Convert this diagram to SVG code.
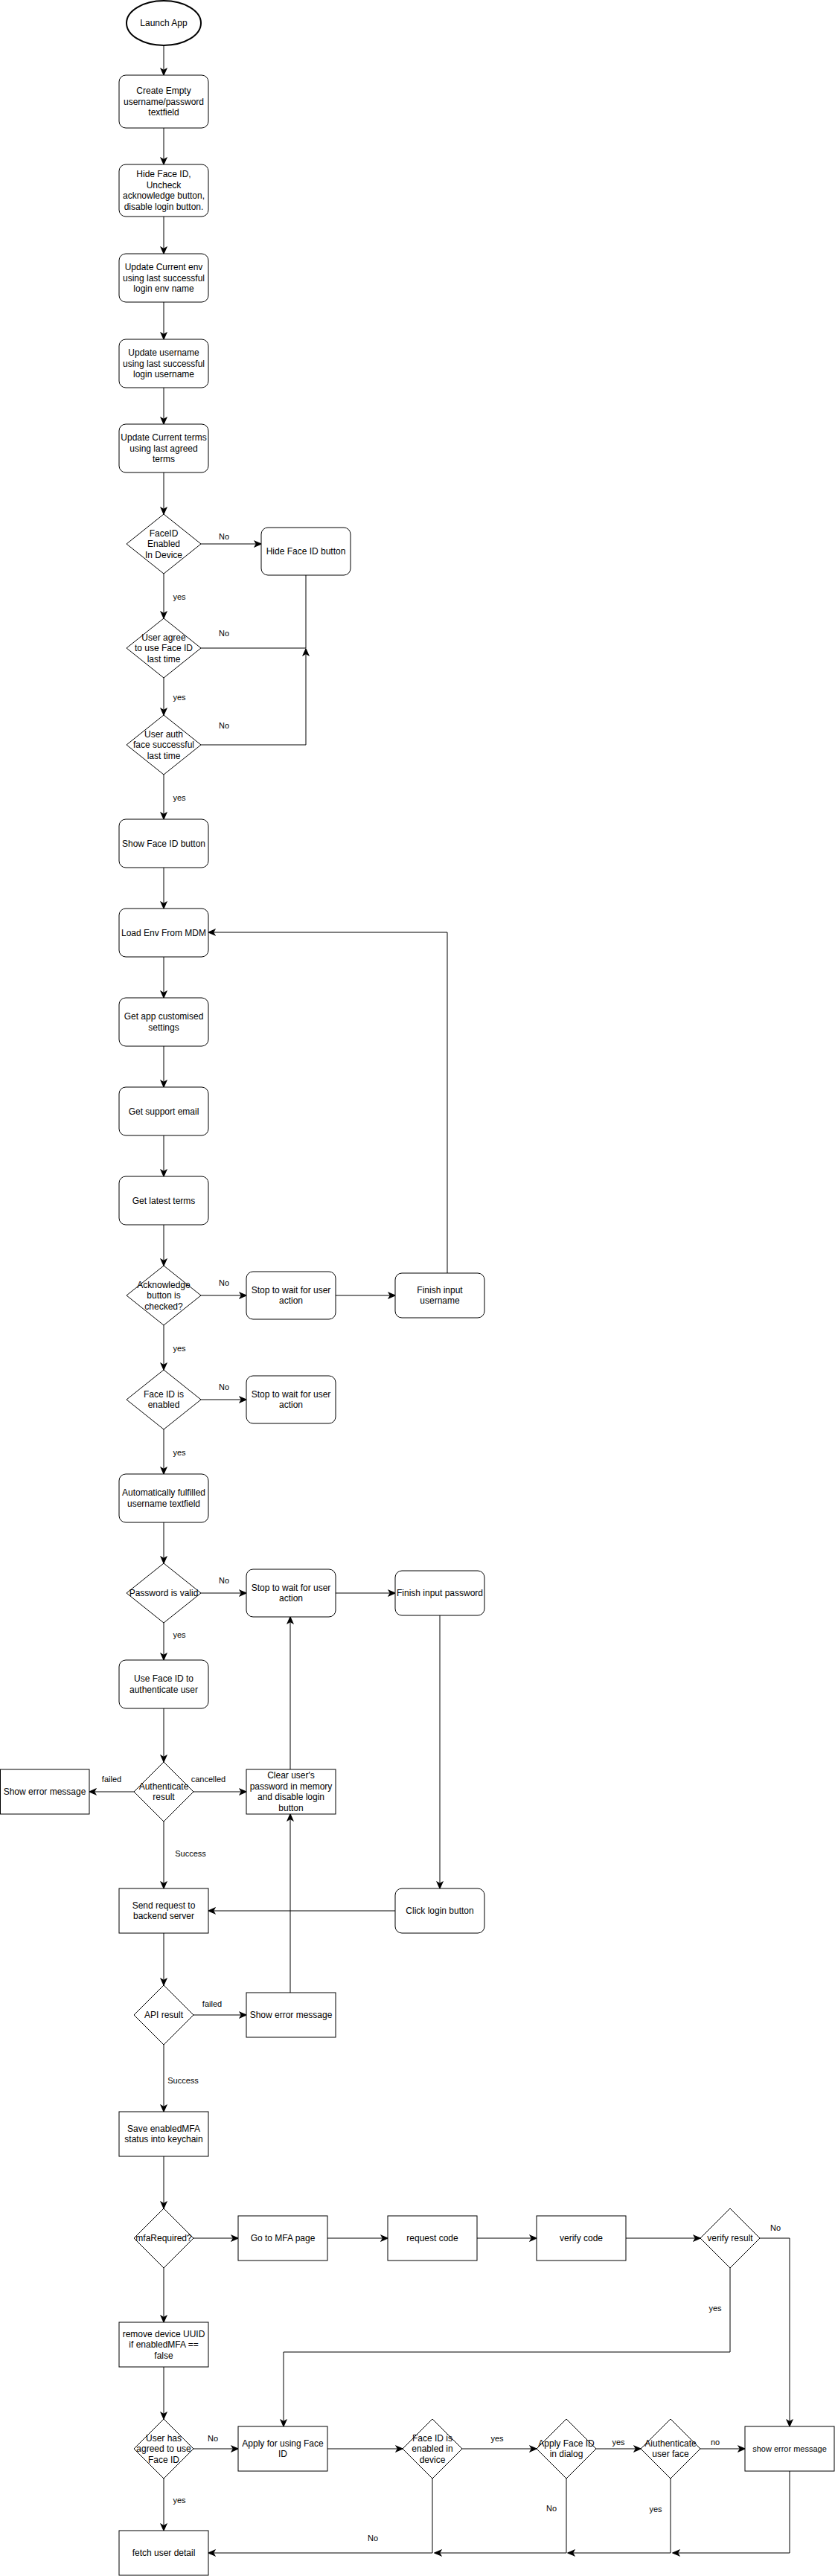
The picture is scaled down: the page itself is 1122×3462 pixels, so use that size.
<svg xmlns="http://www.w3.org/2000/svg" width="1122" height="3462" viewBox="0 0 1122 3462">
<style>
.n{fill:#fff;stroke:#000;stroke-width:1}
.d{fill:#fff;stroke:#000;stroke-width:1}
.c{fill:#fff;stroke:#000;stroke-width:2}
.t{font-family:"Liberation Sans",Arial,sans-serif;font-size:12px;fill:#000;text-anchor:middle}
.s{font-size:11px}
.l{font-family:"Liberation Sans",Arial,sans-serif;font-size:11px;fill:#000;text-anchor:middle}
.e{fill:none;stroke:#000;stroke-width:1}
.a{marker-end:url(#arr)}
</style>
<defs>
<marker id="arr" markerUnits="userSpaceOnUse" markerWidth="11" markerHeight="11" viewBox="0 0 10 10" refX="9" refY="5" orient="auto">
<path d="M1,1.5 L9,5 L1,8.5 L3,5 z" fill="#000" stroke="#000" stroke-width="1"/>
</marker>
</defs>
<rect width="1122" height="3462" fill="#fff"/>

<g id="connectors">
<path class="e a" d="M220,61 V101"/>
<path class="e a" d="M220,172 V221"/>
<path class="e a" d="M220,291 V341"/>
<path class="e a" d="M220,406 V456"/>
<path class="e a" d="M220,521 V570"/>
<path class="e a" d="M220,635 V691"/>
<path class="e a" d="M270,731 H351"/>
<path class="e a" d="M220,771 V831"/>
<path class="e" d="M270,871 H411 V773"/>
<path class="e a" d="M220,911 V961"/>
<path class="e a" d="M270,1001 H411 V872"/>
<path class="e a" d="M220,1041 V1101"/>
<path class="e a" d="M220,1166 V1221"/>
<path class="e a" d="M220,1286 V1341"/>
<path class="e a" d="M220,1406 V1461"/>
<path class="e a" d="M220,1526 V1581"/>
<path class="e a" d="M220,1646 V1701"/>
<path class="e a" d="M270,1741 H331"/>
<path class="e a" d="M451,1741 H531"/>
<path class="e a" d="M601,1711 V1253 H280"/>
<path class="e a" d="M220,1781 V1841"/>
<path class="e a" d="M270,1881 H331"/>
<path class="e a" d="M220,1921 V1981"/>
<path class="e a" d="M220,2046 V2101"/>
<path class="e a" d="M270,2141 H331"/>
<path class="e a" d="M451,2141 H531"/>
<path class="e a" d="M220,2181 V2231"/>
<path class="e a" d="M220,2296 V2368"/>
<path class="e a" d="M180,2408 H120"/>
<path class="e a" d="M260,2408 H331"/>
<path class="e a" d="M390,2378 V2173"/>
<path class="e a" d="M220,2448 V2538"/>
<path class="e a" d="M591,2171 V2538"/>
<path class="e a" d="M531,2568 H280"/>
<path class="e a" d="M220,2598 V2668"/>
<path class="e a" d="M260,2708 H331"/>
<path class="e a" d="M390,2678 V2438"/>
<path class="e a" d="M220,2748 V2838"/>
<path class="e a" d="M220,2898 V2968"/>
<path class="e a" d="M260,3008 H320"/>
<path class="e a" d="M440,3008 H521"/>
<path class="e a" d="M641,3008 H721"/>
<path class="e a" d="M841,3008 H941"/>
<path class="e a" d="M1021,3008 H1061 V3261"/>
<path class="e a" d="M981,3048 V3161 H381 V3261"/>
<path class="e a" d="M220,3048 V3121"/>
<path class="e a" d="M220,3181 V3251"/>
<path class="e a" d="M260,3291 H320"/>
<path class="e a" d="M440,3291 H541"/>
<path class="e a" d="M621,3291 H721"/>
<path class="e a" d="M801,3291 H861"/>
<path class="e a" d="M941,3291 H1001"/>
<path class="e a" d="M1061,3321 V3431 H904"/>
<path class="e a" d="M901,3331 V3431 H763"/>
<path class="e a" d="M761,3331 V3431 H584"/>
<path class="e a" d="M581,3331 V3431 H280"/>
<path class="e a" d="M220,3331 V3401"/>
</g>

<g id="edge-labels">
<text class="l" x="301" y="725">No</text>
<text class="l" x="241" y="806">yes</text>
<text class="l" x="301" y="855">No</text>
<text class="l" x="241" y="941">yes</text>
<text class="l" x="301" y="979">No</text>
<text class="l" x="241" y="1076">yes</text>
<text class="l" x="301" y="1728">No</text>
<text class="l" x="241" y="1816">yes</text>
<text class="l" x="301" y="1868">No</text>
<text class="l" x="241" y="1956">yes</text>
<text class="l" x="301" y="2128">No</text>
<text class="l" x="241" y="2201">yes</text>
<text class="l" x="150" y="2395">failed</text>
<text class="l" x="280" y="2395">cancelled</text>
<text class="l" x="256" y="2495">Success</text>
<text class="l" x="285" y="2697">failed</text>
<text class="l" x="246" y="2800">Success</text>
<text class="l" x="1042" y="2998">No</text>
<text class="l" x="961" y="3106">yes</text>
<text class="l" x="286" y="3281">No</text>
<text class="l" x="668" y="3281">yes</text>
<text class="l" x="831" y="3286">yes</text>
<text class="l" x="961" y="3286">no</text>
<text class="l" x="741" y="3375">No</text>
<text class="l" x="881" y="3376">yes</text>
<text class="l" x="501" y="3415">No</text>
<text class="l" x="241" y="3364">yes</text>
</g>

<g id="launch"><ellipse class="c" cx="220" cy="31" rx="50" ry="30"/><text class="t" x="220" y="35">Launch App</text></g>
<g id="create-empty"><rect class="n" x="160" y="101" width="120" height="71" rx="9"/><text class="t"><tspan x="220" y="126">Create Empty</tspan><tspan x="220" y="140.5">username/password</tspan><tspan x="220" y="155">textfield</tspan></text></g>
<g id="hide-init"><rect class="n" x="160" y="221" width="120" height="70" rx="9"/><text class="t"><tspan x="220" y="238.3">Hide Face ID,</tspan><tspan x="220" y="252.8">Uncheck</tspan><tspan x="220" y="267.3">acknowledge button,</tspan><tspan x="220" y="281.8">disable login button.</tspan></text></g>
<g id="update-env"><rect class="n" x="160" y="341" width="120" height="65" rx="9"/><text class="t"><tspan x="220" y="363">Update Current env</tspan><tspan x="220" y="377.5">using last successful</tspan><tspan x="220" y="392">login env name</tspan></text></g>
<g id="update-username"><rect class="n" x="160" y="456" width="120" height="65" rx="9"/><text class="t"><tspan x="220" y="478">Update username</tspan><tspan x="220" y="492.5">using last successful</tspan><tspan x="220" y="507">login username</tspan></text></g>
<g id="update-terms"><rect class="n" x="160" y="570" width="120" height="65" rx="9"/><text class="t"><tspan x="220" y="592">Update Current terms</tspan><tspan x="220" y="606.5">using last agreed</tspan><tspan x="220" y="621">terms</tspan></text></g>
<g id="faceid-device"><polygon class="d" points="220,691 270,731 220,771 170,731"/><text class="t"><tspan x="220" y="720.5">FaceID</tspan><tspan x="220" y="735">Enabled</tspan><tspan x="220" y="749.5">In Device</tspan></text></g>
<g id="hide-faceid"><rect class="n" x="351" y="709" width="120" height="64" rx="9"/><text class="t" x="411" y="745">Hide Face ID button</text></g>
<g id="user-agree"><polygon class="d" points="220,831 270,871 220,911 170,871"/><text class="t"><tspan x="220" y="860.5">User agree</tspan><tspan x="220" y="875">to use Face ID</tspan><tspan x="220" y="889.5">last time</tspan></text></g>
<g id="user-auth"><polygon class="d" points="220,961 270,1001 220,1041 170,1001"/><text class="t"><tspan x="220" y="990.5">User auth</tspan><tspan x="220" y="1005">face successful</tspan><tspan x="220" y="1019.5">last time</tspan></text></g>
<g id="show-faceid"><rect class="n" x="160" y="1101" width="120" height="65" rx="9"/><text class="t" x="220" y="1137.5">Show Face ID button</text></g>
<g id="load-env"><rect class="n" x="160" y="1221" width="120" height="65" rx="9"/><text class="t" x="220" y="1257.5">Load Env From MDM</text></g>
<g id="get-settings"><rect class="n" x="160" y="1341" width="120" height="65" rx="9"/><text class="t"><tspan x="220" y="1370.3">Get app customised</tspan><tspan x="220" y="1384.8">settings</tspan></text></g>
<g id="get-email"><rect class="n" x="160" y="1461" width="120" height="65" rx="9"/><text class="t" x="220" y="1497.5">Get support email</text></g>
<g id="get-terms"><rect class="n" x="160" y="1581" width="120" height="65" rx="9"/><text class="t" x="220" y="1617.5">Get latest terms</text></g>
<g id="ack-checked"><polygon class="d" points="220,1701 270,1741 220,1781 170,1741"/><text class="t"><tspan x="220" y="1730.5">Acknowledge</tspan><tspan x="220" y="1745">button is</tspan><tspan x="220" y="1759.5">checked?</tspan></text></g>
<g id="stop-1"><rect class="n" x="331" y="1709" width="120" height="64" rx="9"/><text class="t"><tspan x="391" y="1737.8">Stop to wait for user</tspan><tspan x="391" y="1752.3">action</tspan></text></g>
<g id="finish-username"><rect class="n" x="531" y="1711" width="120" height="60" rx="9"/><text class="t"><tspan x="591" y="1737.8">Finish input</tspan><tspan x="591" y="1752.3">username</tspan></text></g>
<g id="faceid-enabled"><polygon class="d" points="220,1841 270,1881 220,1921 170,1881"/><text class="t"><tspan x="220" y="1877.8">Face ID is</tspan><tspan x="220" y="1892.3">enabled</tspan></text></g>
<g id="stop-2"><rect class="n" x="331" y="1849" width="120" height="64" rx="9"/><text class="t"><tspan x="391" y="1877.8">Stop to wait for user</tspan><tspan x="391" y="1892.3">action</tspan></text></g>
<g id="auto-fill"><rect class="n" x="160" y="1981" width="120" height="65" rx="9"/><text class="t"><tspan x="220" y="2010.3">Automatically fulfilled</tspan><tspan x="220" y="2024.8">username textfield</tspan></text></g>
<g id="password-valid"><polygon class="d" points="220,2101 270,2141 220,2181 170,2141"/><text class="t" x="220" y="2145">Password is valid</text></g>
<g id="stop-3"><rect class="n" x="331" y="2109" width="120" height="64" rx="9"/><text class="t"><tspan x="391" y="2137.8">Stop to wait for user</tspan><tspan x="391" y="2152.3">action</tspan></text></g>
<g id="finish-password"><rect class="n" x="531" y="2111" width="120" height="60" rx="9"/><text class="t" x="591" y="2145">Finish input password</text></g>
<g id="use-faceid"><rect class="n" x="160" y="2231" width="120" height="65" rx="9"/><text class="t"><tspan x="220" y="2260.3">Use Face ID to</tspan><tspan x="220" y="2274.8">authenticate user</tspan></text></g>
<g id="auth-result"><polygon class="d" points="220,2368 260,2408 220,2448 180,2408"/><text class="t"><tspan x="220" y="2404.8">Authenticate</tspan><tspan x="220" y="2419.3">result</tspan></text></g>
<g id="show-error-1"><rect class="n" x="0.5" y="2378" width="119.5" height="60"/><text class="t" x="60" y="2412">Show error message</text></g>
<g id="clear-password"><rect class="n" x="331" y="2378" width="120" height="60"/><text class="t"><tspan x="391" y="2390.3">Clear user's</tspan><tspan x="391" y="2404.8">password in memory</tspan><tspan x="391" y="2419.3">and disable login</tspan><tspan x="391" y="2433.8">button</tspan></text></g>
<g id="send-request"><rect class="n" x="160" y="2538" width="120" height="60"/><text class="t"><tspan x="220" y="2564.8">Send request to</tspan><tspan x="220" y="2579.3">backend server</tspan></text></g>
<g id="click-login"><rect class="n" x="531" y="2538" width="120" height="60" rx="9"/><text class="t" x="591" y="2572">Click login button</text></g>
<g id="api-result"><polygon class="d" points="220,2668 260,2708 220,2748 180,2708"/><text class="t" x="220" y="2712">API result</text></g>
<g id="show-error-2"><rect class="n" x="331" y="2678" width="120" height="60"/><text class="t" x="391" y="2712">Show error message</text></g>
<g id="save-mfa"><rect class="n" x="160" y="2838" width="120" height="60"/><text class="t"><tspan x="220" y="2864.8">Save enabledMFA</tspan><tspan x="220" y="2879.3">status into keychain</tspan></text></g>
<g id="mfa-required"><polygon class="d" points="220,2968 260,3008 220,3048 180,3008"/><text class="t" x="220" y="3012">mfaRequired?</text></g>
<g id="go-mfa"><rect class="n" x="320" y="2978" width="120" height="60"/><text class="t" x="380" y="3012">Go to MFA page</text></g>
<g id="request-code"><rect class="n" x="521" y="2978" width="120" height="60"/><text class="t" x="581" y="3012">request code</text></g>
<g id="verify-code"><rect class="n" x="721" y="2978" width="120" height="60"/><text class="t" x="781" y="3012">verify code</text></g>
<g id="verify-result"><polygon class="d" points="981,2968 1021,3008 981,3048 941,3008"/><text class="t" x="981" y="3012">verify result</text></g>
<g id="remove-uuid"><rect class="n" x="160" y="3121" width="120" height="60"/><text class="t"><tspan x="220" y="3140.5">remove device UUID</tspan><tspan x="220" y="3155">if enabledMFA ==</tspan><tspan x="220" y="3169.5">false</tspan></text></g>
<g id="user-agreed"><polygon class="d" points="220,3251 260,3291 220,3331 180,3291"/><text class="t"><tspan x="220" y="3280.5">User has</tspan><tspan x="220" y="3295">agreed to use</tspan><tspan x="220" y="3309.5">Face ID</tspan></text></g>
<g id="apply-faceid"><rect class="n" x="320" y="3261" width="120" height="60"/><text class="t"><tspan x="380" y="3287.8">Apply for using Face</tspan><tspan x="380" y="3302.3">ID</tspan></text></g>
<g id="faceid-device-2"><polygon class="d" points="581,3251 621,3291 581,3331 541,3291"/><text class="t"><tspan x="581" y="3280.5">Face ID is</tspan><tspan x="581" y="3295">enabled in</tspan><tspan x="581" y="3309.5">device</tspan></text></g>
<g id="apply-dialog"><polygon class="d" points="761,3251 801,3291 761,3331 721,3291"/><text class="t"><tspan x="761" y="3287.8">Apply Face ID</tspan><tspan x="761" y="3302.3">in dialog</tspan></text></g>
<g id="auth-face"><polygon class="d" points="901,3251 941,3291 901,3331 861,3291"/><text class="t"><tspan x="901" y="3287.8">Aiuthenticate</tspan><tspan x="901" y="3302.3">user face</tspan></text></g>
<g id="show-error-3"><rect class="n" x="1001" y="3261" width="120" height="60"/><text class="t s" x="1061" y="3295">show error message</text></g>
<g id="fetch-user"><rect class="n" x="160" y="3401" width="120" height="60"/><text class="t" x="220" y="3435">fetch user detail</text></g>
</svg>
